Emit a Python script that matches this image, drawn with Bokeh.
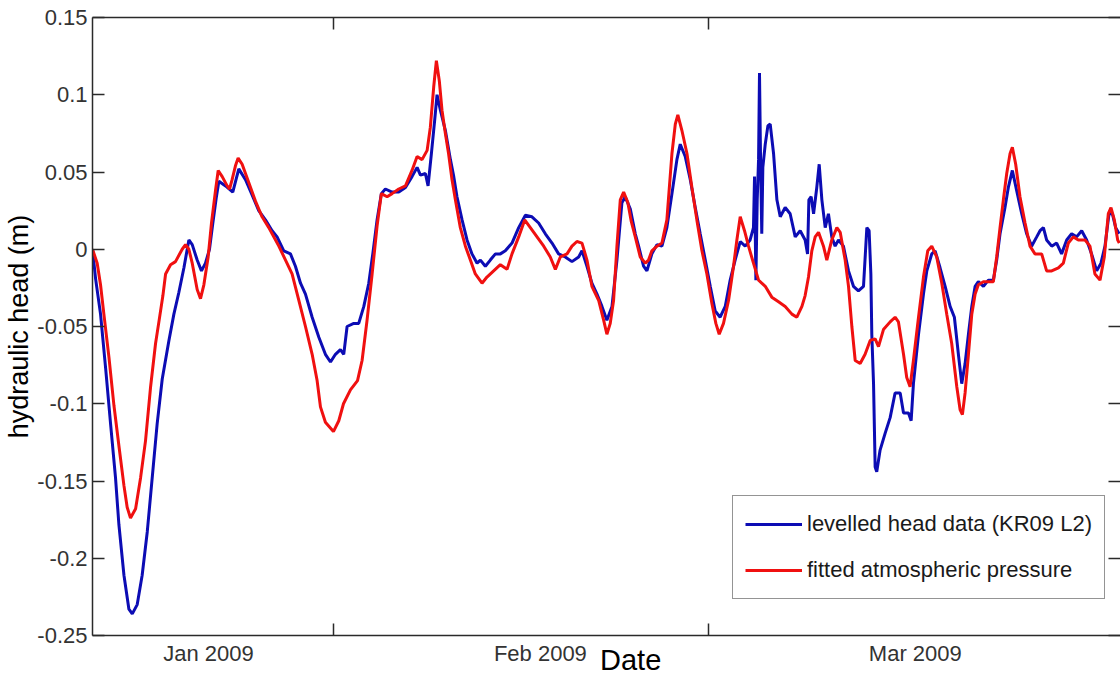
from bokeh.plotting import figure
from bokeh.models import Range1d, FixedTicker, LinearAxis, Legend, LegendItem
from bokeh.embed import file_html
from bokeh.resources import INLINE

# x = day of 2009 (0 = 1 Jan 00:00), y = hydraulic head (m)
head_day = [13.00, 13.23, 13.60, 13.98, 14.35, 14.72, 14.97, 15.35, 15.72, 15.97, 16.34, 16.71, 17.09, 17.46,
            17.83, 18.21, 18.71, 19.08, 19.45, 19.83, 20.20, 20.45, 20.82, 21.14, 21.44, 21.74, 21.99, 22.24,
            22.44, 22.94, 23.48, 23.93, 24.43, 24.93, 25.42, 25.92, 26.42, 26.79, 27.29, 27.79, 28.16, 28.54,
            28.91, 29.41, 29.91, 30.40, 30.78, 31.15, 31.52, 31.77, 32.02, 32.52, 32.89, 33.27, 33.64, 33.94,
            34.26, 34.58, 34.88, 35.38, 35.88, 36.38, 36.87, 37.25, 37.50, 37.87, 38.07, 38.32, 38.57, 38.74,
            38.99, 39.36, 39.74, 39.99, 40.23, 40.61, 40.98, 41.35, 41.73, 41.98, 42.35, 42.72, 43.10, 43.47,
            43.84, 44.34, 44.84, 45.34, 45.83, 46.33, 46.83, 47.33, 47.82, 48.32, 48.82, 49.32, 49.57, 49.94,
            50.31, 50.69, 51.06, 51.43, 51.81, 52.18, 52.55, 52.80, 53.18, 53.55, 53.80, 54.17, 54.42, 54.79,
            55.17, 55.54, 55.91, 56.29, 56.66, 56.91, 57.28, 57.66, 58.03, 58.40, 58.78, 59.15, 59.52, 59.89,
            60.27, 60.64, 61.01, 61.39, 61.76, 62.13, 62.38, 62.46, 62.56, 62.66, 62.76, 62.83, 62.91, 63.00,
            63.08, 63.26, 63.46, 63.63, 63.88, 64.13, 64.38, 64.75, 65.12, 65.50, 65.87, 66.24, 66.42, 66.52,
            66.69, 66.87, 67.11, 67.29, 67.49, 67.74, 67.98, 68.23, 68.48, 68.73, 69.10, 69.48, 69.85, 70.22,
            70.60, 70.85, 71.02, 71.15, 71.22, 71.35, 71.47, 71.59, 71.84, 72.22, 72.59, 72.96, 73.34, 73.59,
            73.96, 74.16, 74.33, 74.71, 75.08, 75.33, 75.70, 75.95, 76.32, 76.70, 77.07, 77.39, 77.69, 77.94,
            78.19, 78.44, 78.69, 78.94, 79.18, 79.56, 79.93, 80.30, 80.55, 80.80, 81.17, 81.42, 81.72, 82.04,
            82.42, 82.79, 83.16, 83.54, 83.79, 84.04, 84.28, 84.66, 85.03, 85.40, 85.78, 86.15, 86.52, 86.90,
            87.27, 87.64, 88.02, 88.34, 88.64, 88.94, 89.19, 89.44, 89.70]
head_m = [0.000, -0.019, -0.042, -0.077, -0.113, -0.148, -0.178, -0.211, -0.233, -0.236, -0.230, -0.211, -0.183, -0.148,
          -0.113, -0.084, -0.059, -0.042, -0.028, -0.012, 0.006, 0.003, -0.007, -0.014, -0.009, 0.000, 0.017, 0.033,
          0.044, 0.041, 0.037, 0.052, 0.045, 0.035, 0.025, 0.019, 0.012, 0.008, -0.001, -0.003, -0.011, -0.022,
          -0.029, -0.044, -0.057, -0.068, -0.073, -0.068, -0.065, -0.068, -0.050, -0.048, -0.048, -0.037, -0.022, -0.003,
          0.019, 0.036, 0.039, 0.037, 0.037, 0.040, 0.047, 0.053, 0.048, 0.049, 0.041, 0.062, 0.084, 0.100,
          0.090, 0.077, 0.058, 0.047, 0.034, 0.019, 0.006, -0.003, -0.009, -0.007, -0.011, -0.007, -0.003, -0.003,
          -0.001, 0.004, 0.014, 0.022, 0.021, 0.017, 0.010, 0.004, -0.003, -0.005, -0.008, -0.005, -0.001, -0.011,
          -0.022, -0.029, -0.037, -0.046, -0.037, -0.007, 0.030, 0.034, 0.026, 0.010, 0.002, -0.011, -0.014, -0.003,
          0.003, 0.002, 0.014, 0.036, 0.058, 0.068, 0.060, 0.045, 0.027, 0.010, -0.007, -0.024, -0.040, -0.044,
          -0.037, -0.020, -0.007, 0.005, 0.002, 0.006, 0.014, 0.047, -0.020, 0.032, 0.058, 0.114, 0.058, 0.010,
          0.053, 0.068, 0.080, 0.081, 0.062, 0.032, 0.021, 0.027, 0.023, 0.008, 0.012, 0.006, -0.003, 0.032,
          0.034, 0.023, 0.040, 0.055, 0.032, 0.014, 0.023, 0.008, 0.002, 0.006, 0.002, -0.014, -0.024, -0.027,
          -0.024, 0.014, 0.012, -0.016, -0.055, -0.087, -0.141, -0.144, -0.130, -0.119, -0.109, -0.093, -0.093, -0.106,
          -0.106, -0.111, -0.087, -0.055, -0.029, -0.014, -0.003, -0.001, -0.012, -0.024, -0.037, -0.044, -0.068, -0.087,
          -0.074, -0.055, -0.037, -0.024, -0.021, -0.024, -0.020, -0.020, -0.007, 0.010, 0.027, 0.040, 0.051, 0.038,
          0.023, 0.010, 0.002, 0.008, 0.012, 0.014, 0.006, 0.002, 0.004, -0.003, 0.006, 0.010, 0.008, 0.012,
          0.006, -0.003, -0.014, -0.009, 0.002, 0.023, 0.023, 0.014, 0.010]

atm_day = [13.00, 13.35, 13.60, 13.85, 14.23, 14.60, 14.97, 15.35, 15.59, 15.84, 16.22, 16.59, 16.96, 17.34,
           17.71, 17.96, 18.26, 18.46, 18.83, 19.20, 19.70, 19.95, 20.20, 20.45, 20.82, 21.07, 21.32, 21.64,
           21.89, 22.19, 22.39, 22.69, 23.06, 23.24, 23.43, 23.68, 23.88, 24.18, 24.68, 25.18, 25.67, 26.17,
           26.42, 26.92, 27.42, 27.91, 28.41, 28.91, 29.41, 29.78, 30.03, 30.40, 31.00, 31.40, 31.75, 32.27,
           32.80, 33.14, 33.51, 33.89, 34.26, 34.58, 35.01, 35.38, 35.88, 36.38, 36.87, 37.25, 37.62, 38.00,
           38.24, 38.49, 38.69, 38.91, 39.11, 39.36, 39.60, 39.86, 40.11, 40.48, 40.86, 41.23, 41.60, 42.10,
           42.47, 42.97, 43.47, 43.97, 44.34, 44.84, 45.29, 45.71, 46.21, 46.71, 47.20, 47.58, 47.95, 48.45,
           48.82, 49.19, 49.57, 49.94, 50.31, 50.81, 51.19, 51.43, 51.68, 51.93, 52.18, 52.43, 52.68, 53.00,
           53.25, 53.55, 53.92, 54.30, 54.54, 54.79, 55.17, 55.54, 55.91, 56.29, 56.54, 56.73, 57.03, 57.41,
           57.78, 58.15, 58.53, 58.90, 59.27, 59.57, 59.82, 60.14, 60.52, 60.89, 61.14, 61.39, 61.71, 62.01,
           62.38, 62.76, 63.26, 63.75, 64.25, 64.75, 65.25, 65.62, 66.00, 66.24, 66.49, 66.74, 66.99, 67.24,
           67.61, 67.86, 68.23, 68.61, 68.86, 69.23, 69.48, 69.73, 69.98, 70.35, 70.72, 71.10, 71.47, 71.72,
           72.09, 72.59, 72.96, 73.21, 73.59, 73.83, 74.08, 74.33, 74.71, 75.08, 75.40, 75.70, 76.07, 76.45,
           76.82, 77.19, 77.57, 77.82, 77.99, 78.19, 78.44, 78.69, 78.94, 79.18, 79.56, 80.05, 80.30, 80.55,
           80.80, 81.05, 81.30, 81.55, 81.72, 81.97, 82.29, 82.67, 83.04, 83.41, 83.91, 84.28, 84.66, 85.16,
           85.53, 85.90, 86.28, 86.65, 87.15, 87.52, 87.89, 88.27, 88.59, 88.89, 89.09, 89.34, 89.59, 89.71]
atm_m = [0.000, -0.009, -0.023, -0.042, -0.070, -0.101, -0.127, -0.153, -0.167, -0.174, -0.168, -0.148, -0.124, -0.089,
         -0.061, -0.047, -0.030, -0.016, -0.010, -0.008, 0.000, 0.003, 0.000, -0.009, -0.026, -0.032, -0.023, -0.005,
         0.017, 0.038, 0.051, 0.047, 0.041, 0.039, 0.045, 0.054, 0.059, 0.055, 0.043, 0.031, 0.021, 0.014,
         0.010, 0.002, -0.007, -0.016, -0.033, -0.050, -0.068, -0.085, -0.102, -0.112, -0.118, -0.111, -0.100, -0.091,
         -0.085, -0.072, -0.046, -0.016, 0.015, 0.036, 0.034, 0.036, 0.039, 0.041, 0.051, 0.060, 0.058, 0.064,
         0.079, 0.105, 0.122, 0.109, 0.090, 0.075, 0.062, 0.045, 0.032, 0.014, 0.002, -0.007, -0.016, -0.022,
         -0.018, -0.014, -0.010, -0.013, -0.003, 0.008, 0.019, 0.014, 0.008, 0.002, -0.005, -0.013, -0.005, -0.003,
         0.002, 0.005, 0.004, -0.007, -0.024, -0.033, -0.046, -0.055, -0.048, -0.033, 0.002, 0.032, 0.037, 0.030,
         0.018, 0.008, -0.005, -0.009, -0.007, -0.001, 0.002, 0.004, 0.019, 0.062, 0.081, 0.087, 0.077, 0.062,
         0.040, 0.019, -0.001, -0.016, -0.035, -0.048, -0.055, -0.048, -0.033, -0.011, 0.006, 0.021, 0.012, 0.002,
         -0.009, -0.020, -0.024, -0.031, -0.034, -0.037, -0.042, -0.044, -0.037, -0.030, -0.018, -0.001, 0.008, 0.011,
         0.002, -0.007, 0.006, 0.014, 0.011, -0.007, -0.024, -0.050, -0.072, -0.074, -0.068, -0.059, -0.058, -0.063,
         -0.052, -0.047, -0.044, -0.047, -0.068, -0.083, -0.089, -0.072, -0.044, -0.018, -0.001, 0.002, -0.005, -0.022,
         -0.042, -0.061, -0.089, -0.104, -0.107, -0.093, -0.068, -0.042, -0.029, -0.023, -0.021, -0.021, -0.021, -0.005,
         0.014, 0.032, 0.049, 0.062, 0.066, 0.055, 0.034, 0.017, 0.002, -0.003, -0.003, -0.014, -0.014, -0.012,
         -0.009, 0.004, 0.008, 0.006, 0.006, 0.002, -0.016, -0.020, -0.005, 0.023, 0.027, 0.019, 0.006, 0.004]

y_ticks = [-0.25, -0.2, -0.15, -0.1, -0.05, 0.0, 0.05, 0.1, 0.15]
y_tick_labels = ["-0.25", "-0.2", "-0.15", "-0.1", "-0.05", "0", "0.05", "0.1", "0.15"]
month_label_pos = [21.67, 46.46, 74.47]
month_labels = ["Jan 2009", "Feb 2009", "Mar 2009"]
month_starts = [31, 59]

series_names = ["levelled head data (KR09 L2)", "fitted atmospheric pressure"]
series_colors = ["#0c0cb4", "#f01010"]

FONT = "Liberation Sans"
AX = "#2a2a2a"

p = figure(width=1120, height=680, output_backend="svg", toolbar_location=None,
           x_range=Range1d(13.0, 89.8), y_range=Range1d(-0.25, 0.15),
           min_border_left=92, min_border_right=0, min_border_top=17, min_border_bottom=45)
p.xgrid.visible = False
p.ygrid.visible = False
p.outline_line_color = None
p.background_fill_color = "white"
p.border_fill_color = "white"

r_head = p.line(head_day, head_m, line_color=series_colors[0], line_width=3)
r_atm = p.line(atm_day, atm_m, line_color=series_colors[1], line_width=3)

xt = FixedTicker(ticks=month_label_pos, minor_ticks=month_starts)
xa = p.xaxis[0]
xa.ticker = xt
xa.major_label_overrides = dict(zip(month_label_pos, month_labels))
xa.major_tick_in = 0
xa.major_tick_out = 0
xa.minor_tick_in = 12
xa.minor_tick_out = 0
xa.minor_tick_line_color = AX
xa.minor_tick_line_width = 1.5
xa.axis_line_color = AX
xa.axis_line_width = 1.5
xa.major_label_text_font = FONT
xa.major_label_text_font_size = "22px"
xa.major_label_text_color = "#333333"
xa.major_label_standoff = 5
# leading no-break spaces push the label right of centre, as in the original
xa.axis_label = "\u00a0" * 6 + "Date"
xa.axis_label_text_font = FONT
xa.axis_label_text_font_size = "29px"
xa.axis_label_text_font_style = "normal"
xa.axis_label_text_color = "black"
xa.axis_label_standoff = -25

ya = p.yaxis[0]
ya.ticker = FixedTicker(ticks=y_ticks, minor_ticks=[])
ya.major_label_overrides = dict(zip(y_ticks, y_tick_labels))
ya.major_tick_in = 12
ya.major_tick_out = 0
ya.major_tick_line_color = AX
ya.major_tick_line_width = 1.5
ya.axis_line_color = AX
ya.axis_line_width = 1.5
ya.major_label_text_font = FONT
ya.major_label_text_font_size = "22px"
ya.major_label_text_color = "#333333"
ya.major_label_standoff = 5
ya.axis_label = "hydraulic head (m)"
ya.axis_label_text_font = FONT
ya.axis_label_text_font_size = "27px"
ya.axis_label_text_font_style = "normal"
ya.axis_label_text_color = "black"
ya.axis_label_standoff = 0

top = LinearAxis(ticker=FixedTicker(ticks=[], minor_ticks=month_starts),
                 major_tick_in=0, major_tick_out=0, minor_tick_in=12, minor_tick_out=0,
                 minor_tick_line_color=AX, minor_tick_line_width=1.5,
                 axis_line_color=AX, axis_line_width=1.5, major_label_standoff=0)
p.add_layout(top, "above")

right = LinearAxis(ticker=FixedTicker(ticks=[], minor_ticks=y_ticks),
                   major_tick_in=0, major_tick_out=0, minor_tick_in=12, minor_tick_out=0,
                   minor_tick_line_color=AX, minor_tick_line_width=1.5,
                   axis_line_color=None, major_label_standoff=0)
p.add_layout(right, "right")

legend = Legend(items=[LegendItem(label=series_names[0], renderers=[r_head]),
                       LegendItem(label=series_names[1], renderers=[r_atm])],
                location=(640, 36), margin=0, padding=12, spacing=14,
                glyph_width=57, glyph_height=32, label_height=32, label_standoff=5,
                label_text_font=FONT, label_text_font_size="22px", label_text_color="#1a1a1a",
                border_line_color=AX, border_line_width=1.5, background_fill_alpha=1.0)
p.add_layout(legend)

open("out.html", "w").write(file_html(p, INLINE))
